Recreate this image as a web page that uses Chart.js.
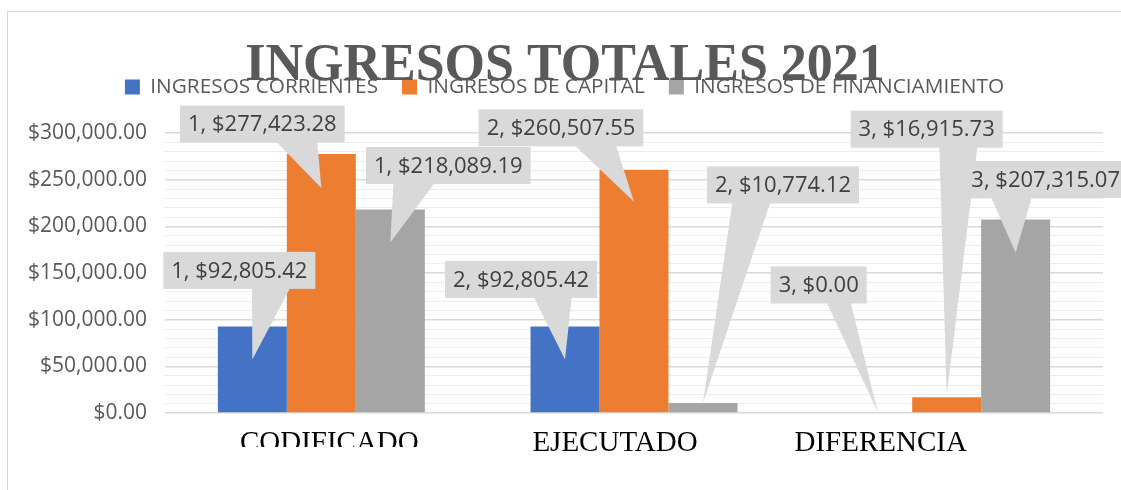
<!DOCTYPE html>
<html lang="es">
<head>
<meta charset="utf-8">
<title>Ingresos Totales 2021</title>
<script src="https://cdn.jsdelivr.net/npm/chart.js@4.4.1/dist/chart.umd.min.js"></script>
<style>
  html, body { margin: 0; padding: 0; background: #fff; overflow: hidden; }
  .marco { position: absolute; left: 7px; top: 11px; width: 1158px; height: 478px; border: 1px solid #d9d9d9; }
  canvas { display: block; }
</style>
</head>
<body>
<div class="marco"><canvas id="grafico"></canvas></div>
<script>
const titulo = 'INGRESOS TOTALES 2021';
const categorias = ['CODIFICADO', 'EJECUTADO', 'DIFERENCIA'];
const series = ['INGRESOS CORRIENTES', 'INGRESOS DE CAPITAL', 'INGRESOS DE FINANCIAMIENTO'];
const corrientes = [92805.42, 92805.42, 0];
const capital = [277423.28, 260507.55, 16915.73];
const financiamiento = [218089.19, 10774.12, 207315.07];
const ticksY = [0, 50000, 100000, 150000, 200000, 250000, 300000];

// globos: desplazamiento del centro respecto a la barra (dx, dy) y bajada de la punta
const globos = [
    [[-13, -56, 33], [-44, -47, 33], [-59, -128, -1]],
    [[-59, -30, 34], [-73, -42, 32], [-20, -268, -2]],
    [[58, -44, 33], [80, -218, 0], [30, -40, 33]]
];
// las etiquetas del eje x no quedan centradas en el original
const ajusteEtiquetas = [8, -19, -66];

const dinero = v => '$' + v.toLocaleString('en-US', { minimumFractionDigits: 2, maximumFractionDigits: 2 });

const tituloPlugin = {
    id: 'tituloGrande',
    afterDraw(chart) {
        const ctx = chart.ctx;
        ctx.save();
        ctx.font = 'bold 52px "Liberation Serif"';
        ctx.fillStyle = '#595959';
        ctx.textAlign = 'center';
        ctx.textBaseline = 'alphabetic';
        ctx.fillText(titulo, 557, 68);
        ctx.restore();
    }
};

const etiquetasX = {
    id: 'etiquetasX',
    afterDraw(chart) {
        const ctx = chart.ctx;
        const xs = chart.scales.x;
        const base = chart.chartArea.bottom;
        categorias.forEach((c, i) => {
            ctx.save();
            if (i === 0) {
                // CODIFICADO aparece cortado por abajo
                ctx.beginPath();
                ctx.rect(0, 0, chart.width, base + 34);
                ctx.clip();
            }
            ctx.font = '29px "Liberation Serif"';
            ctx.fillStyle = '#000';
            ctx.textAlign = 'center';
            ctx.textBaseline = 'alphabetic';
            ctx.fillText(c, xs.getPixelForValue(i) + ajusteEtiquetas[i], base + 38);
            ctx.restore();
        });
    }
};

const globosPlugin = {
    id: 'globos',
    afterDatasetsDraw(chart) {
        const ctx = chart.ctx;
        ctx.save();
        ctx.font = '22px "Open Sans"';
        chart.data.datasets.forEach((ds, d) => {
            chart.getDatasetMeta(d).data.forEach((bar, i) => {
                const [dx, dy, baja] = globos[d][i];
                const texto = (i + 1) + ', ' + dinero(ds.data[i]);
                const w = ctx.measureText(texto).width + 16;
                const h = 37;
                const cx = bar.x + dx, cy = bar.y + dy;
                const x0 = cx - w / 2, y0 = cy - h / 2;
                const px = bar.x, py = bar.y + baja;
                const izq = px < cx;
                const b1 = x0 + w * (izq ? 2 : 7) / 12;
                const b2 = x0 + w * (izq ? 5 : 10) / 12;
                ctx.fillStyle = '#d9d9d9';
                ctx.fillRect(x0, y0, w, h);
                ctx.beginPath();
                ctx.moveTo(b1, y0 + h - 1);
                ctx.lineTo(px, py);
                ctx.lineTo(b2, y0 + h - 1);
                ctx.closePath();
                ctx.fill();
                ctx.fillStyle = '#404040';
                ctx.textAlign = 'center';
                ctx.textBaseline = 'middle';
                ctx.fillText(texto, cx, cy + 1);
            });
        });
        ctx.restore();
    }
};

const esMayor = v => ticksY.includes(Math.round(v));

new Chart(document.getElementById('grafico'), {
    type: 'bar',
    data: {
        labels: categorias,
        datasets: [
            { label: series[0], data: corrientes, backgroundColor: '#4472c4' },
            { label: series[1], data: capital, backgroundColor: '#ed7d31' },
            { label: series[2], data: financiamiento, backgroundColor: '#a5a5a5' }
        ].map(ds => ({ ...ds, borderWidth: 0, categoryPercentage: 0.662, barPercentage: 1 }))
    },
    options: {
        responsive: true,
        maintainAspectRatio: false,
        animation: false,
        events: [],
        layout: { padding: { top: 40.6, left: 18, right: 63, bottom: 77 } },
        scales: {
            x: { display: false },
            y: {
                min: 0,
                max: 327430,
                afterFit(scale) { scale.width = 139; },
                afterBuildTicks(scale) {
                    // líneas cada 10 000 hasta 300 000, etiqueta cada 50 000
                    const top = ticksY[ticksY.length - 1];
                    scale.ticks = [];
                    for (let v = 0; v <= top; v += 10000) scale.ticks.push({ value: v });
                },
                border: { display: false },
                grid: {
                    drawTicks: false,
                    color: c => esMayor(c.tick.value) ? '#d9d9d9' : '#ededed',
                    lineWidth: c => esMayor(c.tick.value) ? 1.5 : 1
                },
                ticks: {
                    autoSkip: false,
                    padding: 18,
                    color: '#595959',
                    font: { family: 'Open Sans', size: 21 },
                    callback: v => esMayor(v) ? dinero(v) : ''
                }
            }
        },
        plugins: {
            title: { display: false },
            tooltip: { enabled: false },
            legend: {
                position: 'top',
                labels: {
                    boxWidth: 15,
                    boxHeight: 15,
                    padding: 24,
                    color: '#595959',
                    font: { family: 'Open Sans', size: 20.8 }
                }
            }
        }
    },
    plugins: [tituloPlugin, etiquetasX, globosPlugin]
});
</script>
</body>
</html>
